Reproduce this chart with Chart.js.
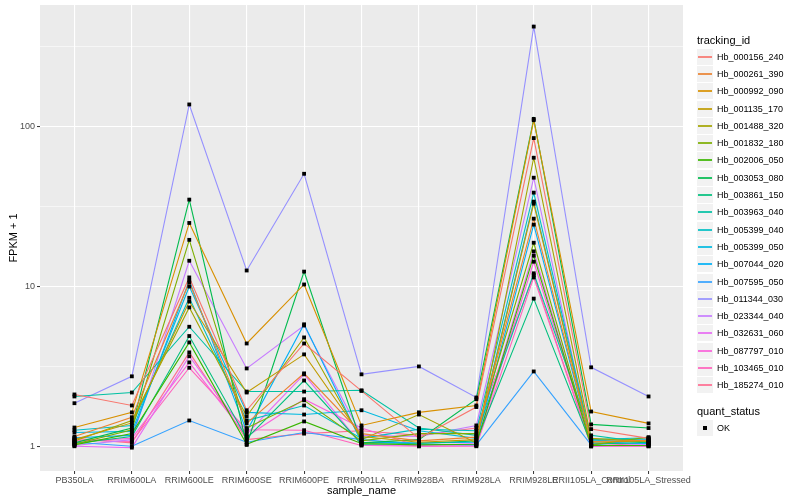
<!DOCTYPE html>
<html>
<head>
<meta charset="utf-8">
<script src="https://cdn.jsdelivr.net/npm/chart.js@4"></script>
<style>
  html, body { margin: 0; padding: 0; background: #fff; }
  #wrap { position: relative; width: 800px; height: 500px; font-family: "Liberation Sans", Arial, sans-serif; }
  #chart { position: absolute; left: 0; top: 0; }
  #legend { position: absolute; left: 697px; top: 32px; color: #000; }
  .lg-title { font-size: 11px; height: 16px; line-height: 16px; }
  .lg-row { display: flex; align-items: center; height: 17.3px; }
  .lg-key { position: relative; width: 16px; height: 16px; background: #F2F2F2; margin-right: 4px; }
  .lg-key span { position: absolute; left: 1px; right: 1px; top: 7px; height: 2px; opacity: 0.85; }
  .lg-key i { position: absolute; left: 6px; top: 6px; width: 4px; height: 4px; background: #000; }
  .lg-text { font-size: 9px; }
</style>
</head>
<body>
<div id="wrap">
  <canvas id="chart" width="800" height="500"></canvas>
  <div id="legend"></div>
</div>
<script>
const sampleNames = ['PB350LA', 'RRIM600LA', 'RRIM600LE', 'RRIM600SE', 'RRIM600PE', 'RRIM901LA',
    'RRIM928BA', 'RRIM928LA', 'RRIM928LE', 'RRII105LA_Control', 'RRII105LA_Stressed'];

const trackingIds = ['Hb_000156_240', 'Hb_000261_390', 'Hb_000992_090', 'Hb_001135_170', 'Hb_001488_320',
    'Hb_001832_180', 'Hb_002006_050', 'Hb_003053_080', 'Hb_003861_150', 'Hb_003963_040',
    'Hb_005399_040', 'Hb_005399_050', 'Hb_007044_020', 'Hb_007595_050', 'Hb_011344_030',
    'Hb_023344_040', 'Hb_032631_060', 'Hb_087797_010', 'Hb_103465_010', 'Hb_185274_010'];

// ggplot default hue palette, 20 levels
const trackingColors = ['#F8766D', '#EA8331', '#D89000', '#C09B00', '#A3A500', '#7CAE00', '#39B600',
    '#00BB4E', '#00BF7D', '#00C1A3', '#00BFC4', '#00BAE0', '#00B0F6', '#35A2FF', '#9590FF',
    '#C77CFF', '#E76BF3', '#FA62DB', '#FF62BC', '#FF6C91'];

// FPKM + 1 per sample, one array per tracking_id
const hb_000156_240 = [2.11, 1.80, 11.4, 1.68, 4.40, 2.22, 1.12, 1.76, 85.0, 1.28, 1.12];
const hb_000261_390 = [1.15, 1.52, 10.6, 1.39, 2.86, 1.20, 1.08, 1.14, 26.6, 1.07, 1.09];
const hb_000992_090 = [1.31, 1.63, 25.0, 4.40, 10.3, 1.35, 1.63, 1.80, 110, 1.65, 1.39];
const hb_001135_170 = [1.10, 1.40, 8.05, 2.17, 3.76, 1.15, 1.06, 1.10, 33.0, 1.06, 1.08];
const hb_001488_320 = [1.08, 1.45, 7.40, 1.54, 4.80, 1.10, 1.58, 1.05, 64.0, 1.12, 1.07];
const hb_001832_180 = [1.03, 1.27, 19.6, 1.30, 1.94, 1.08, 1.20, 1.20, 18.8, 1.02, 1.14];
const hb_002006_050 = [1.02, 1.20, 4.47, 1.03, 1.43, 1.04, 1.02, 1.03, 15.6, 1.01, 1.01];
const hb_003053_080 = [1.05, 1.30, 35.0, 1.02, 12.4, 1.05, 1.10, 1.97, 112, 1.37, 1.30];
const hb_003861_150 = [1.04, 1.15, 4.90, 1.12, 2.58, 1.03, 1.04, 1.08, 8.40, 1.03, 1.06];
const hb_003963_040 = [2.05, 2.17, 5.60, 2.20, 2.20, 2.24, 1.30, 1.17, 12.1, 1.17, 1.05];
const hb_005399_040 = [1.26, 1.35, 8.50, 1.45, 1.80, 1.12, 1.28, 1.25, 38.7, 1.10, 1.13];
const hb_005399_050 = [1.22, 1.24, 10.0, 1.63, 1.58, 1.68, 1.25, 1.12, 34.0, 1.08, 1.11];
const hb_007044_020 = [1.13, 1.17, 10.9, 1.24, 5.80, 1.06, 1.05, 1.06, 24.4, 1.05, 1.04];
const hb_007595_050 = [1.06, 1.00, 1.45, 1.06, 1.22, 1.10, 1.03, 1.02, 2.94, 1.02, 1.10];
const hb_011344_030 = [1.86, 2.74, 138, 12.6, 50.8, 2.82, 3.16, 2.02, 424, 3.12, 2.05];
const hb_023344_040 = [1.01, 1.10, 14.5, 3.07, 5.70, 1.17, 1.15, 1.35, 48.0, 1.04, 1.03];
const hb_032631_060 = [1.00, 0.98, 3.66, 1.19, 2.82, 1.02, 1.01, 1.04, 16.6, 1.00, 1.02];
const hb_087797_010 = [1.07, 1.12, 3.35, 1.15, 1.97, 1.30, 1.00, 1.01, 14.3, 1.01, 1.00];
const hb_103465_010 = [1.09, 1.07, 3.10, 1.27, 1.26, 1.01, 1.00, 1.00, 11.4, 1.00, 1.00];
const hb_185274_010 = [1.12, 1.05, 3.87, 1.10, 1.20, 1.25, 1.17, 1.30, 11.8, 1.00, 1.05];

const seriesValues = [hb_000156_240, hb_000261_390, hb_000992_090, hb_001135_170, hb_001488_320,
    hb_001832_180, hb_002006_050, hb_003053_080, hb_003861_150, hb_003963_040,
    hb_005399_040, hb_005399_050, hb_007044_020, hb_007595_050, hb_011344_030,
    hb_023344_040, hb_032631_060, hb_087797_010, hb_103465_010, hb_185274_010];

const quantStatus = ['OK'];

const majorTicks = [1, 10, 100];
const minorTicks = [Math.sqrt(10), Math.sqrt(1000), Math.sqrt(100000)];

const toPoints = vals => vals.map((v, i) => ({ x: i, y: v }));

const lineSets = seriesValues.map((vals, k) => ({
    label: trackingIds[k],
    data: toPoints(vals),
    borderColor: trackingColors[k],
    borderWidth: 1.1,
    pointRadius: 0,
    fill: false,
    tension: 0,
    order: 1
}));

// all points on top of all lines, like geom_point after geom_line
const pointSet = {
    label: 'quant_status',
    type: 'scatter',
    data: seriesValues.flatMap(vals => toPoints(vals)),
    pointStyle: 'rect',
    pointRadius: 2.7,
    pointBackgroundColor: '#000',
    pointBorderWidth: 0,
    showLine: false,
    order: 0
};

const panelBg = {
    id: 'panelBg',
    beforeDraw(chart) {
        const { ctx, chartArea: a } = chart;
        ctx.save();
        ctx.fillStyle = '#EBEBEB';
        ctx.fillRect(a.left, a.top, a.right - a.left, a.bottom - a.top);
        ctx.restore();
    }
};

const isMajor = v => majorTicks.some(m => Math.abs(m - v) < 1e-9);

new Chart(document.getElementById('chart'), {
    type: 'line',
    data: { datasets: [...lineSets, pointSet] },
    options: {
        responsive: false,
        animation: false,
        layout: { padding: { left: 0, right: 117, top: 5, bottom: 0 } },
        plugins: { legend: { display: false }, tooltip: { enabled: false } },
        scales: {
            x: {
                type: 'linear',
                min: -0.6,
                max: sampleNames.length - 1 + 0.6,
                afterBuildTicks: scale => { scale.ticks = sampleNames.map((_, i) => ({ value: i })); },
                afterFit: scale => {
                    scale.height = 29;
                    scale.paddingLeft = 0;
                    scale.paddingRight = 0;
                },
                border: { display: false },
                grid: { color: '#FFFFFF', lineWidth: 1.1, tickLength: 3, tickColor: '#333333', tickWidth: 1 },
                ticks: {
                    autoSkip: false,
                    maxRotation: 0,
                    padding: 1,
                    color: '#4D4D4D',
                    font: { family: '"Liberation Sans", Arial, sans-serif', size: 9 },
                    callback: v => sampleNames[v]
                },
                title: {
                    display: true,
                    text: 'sample_name',
                    color: '#000',
                    padding: { top: 0, bottom: 2 },
                    font: { family: '"Liberation Sans", Arial, sans-serif', size: 11 }
                }
            },
            y: {
                type: 'logarithmic',
                min: Math.pow(10, -21 / 160),
                max: Math.pow(10, 442 / 160),
                afterBuildTicks: scale => {
                    scale.ticks = [...majorTicks, ...minorTicks].sort((a, b) => a - b).map(v => ({ value: v }));
                },
                afterFit: scale => {
                    scale.width = 40;
                    scale.paddingTop = 0;
                    scale.paddingBottom = 0;
                },
                border: { display: false },
                grid: {
                    color: '#FFFFFF',
                    lineWidth: ctx => isMajor(ctx.tick.value) ? 1.1 : 0.55,
                    tickLength: 3,
                    tickColor: ctx => isMajor(ctx.tick.value) ? '#333333' : 'rgba(0,0,0,0)',
                    tickWidth: 1
                },
                ticks: {
                    padding: 2,
                    color: '#4D4D4D',
                    font: { family: '"Liberation Sans", Arial, sans-serif', size: 9 },
                    callback: v => isMajor(v) ? String(v) : ''
                },
                title: {
                    display: true,
                    text: 'FPKM + 1',
                    color: '#000',
                    padding: { top: 7, bottom: 0 },
                    font: { family: '"Liberation Sans", Arial, sans-serif', size: 11 }
                }
            }
        }
    },
    plugins: [panelBg]
});

// ggplot-style legends: tracking_id (lines) and quant_status (points)
let html = '<div class="lg-title">tracking_id</div>';
trackingIds.forEach((id, k) => {
    html += `<div class="lg-row"><div class="lg-key"><span style="background:${trackingColors[k]}"></span></div>` +
        `<div class="lg-text">${id}</div></div>`;
});
html += '<div style="height:9px"></div><div class="lg-title">quant_status</div>';
quantStatus.forEach(s => {
    html += `<div class="lg-row"><div class="lg-key"><i></i></div><div class="lg-text">${s}</div></div>`;
});
document.getElementById('legend').innerHTML = html;
</script>
</body>
</html>
